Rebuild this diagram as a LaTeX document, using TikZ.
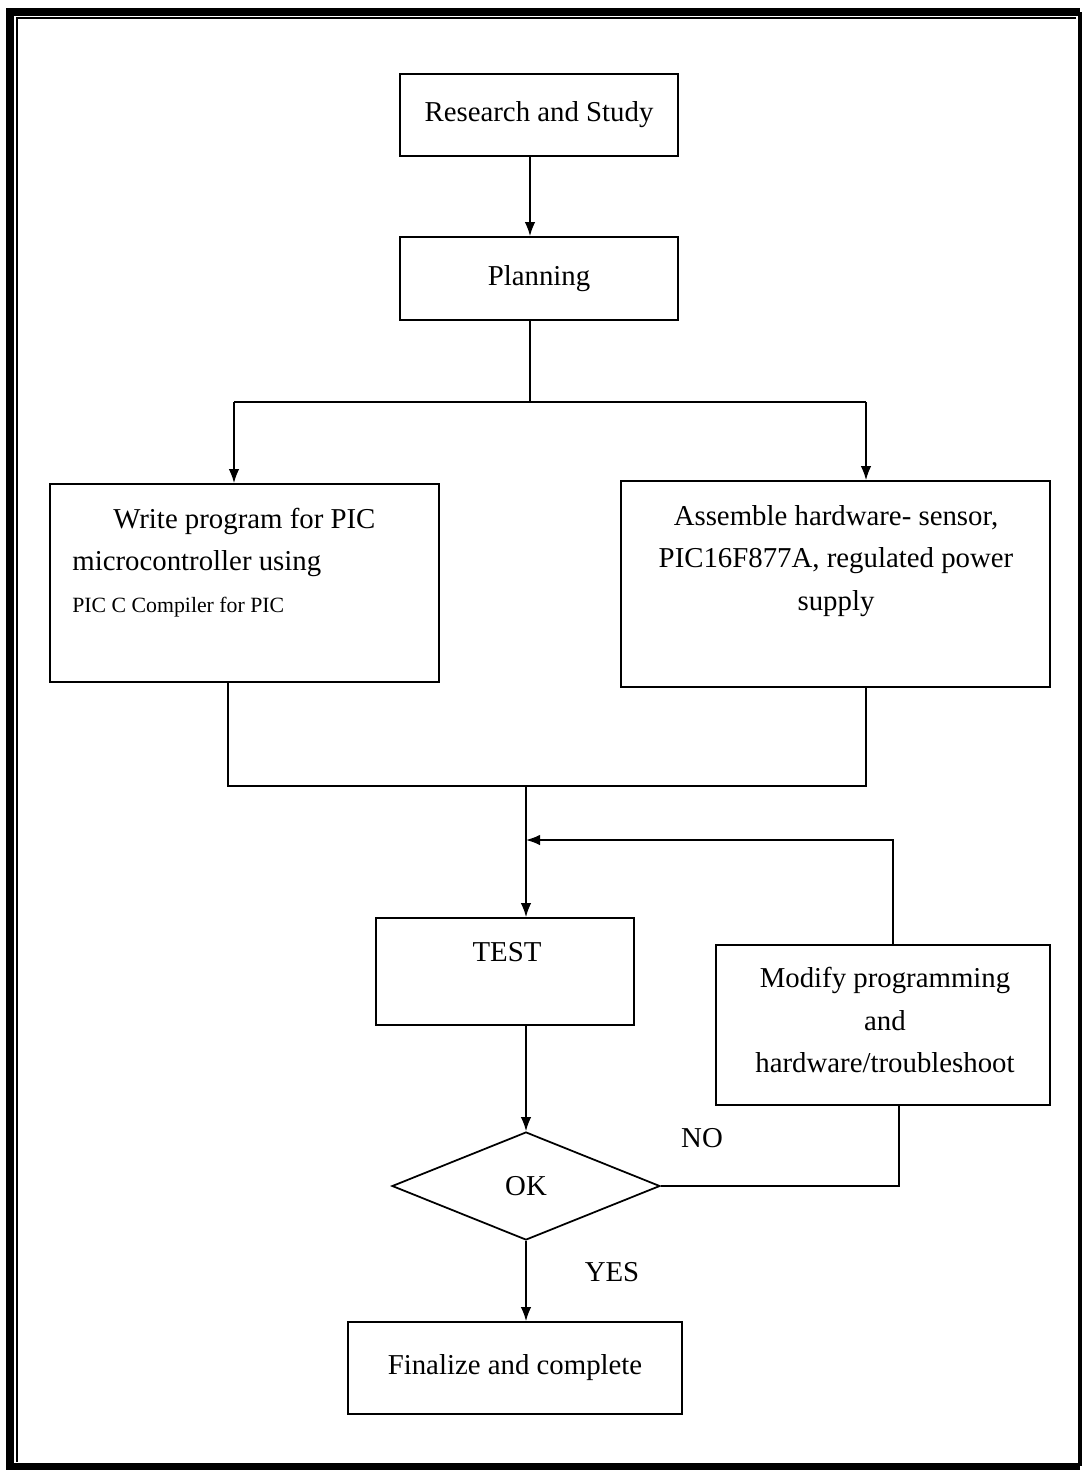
\documentclass[tikz,border=0pt]{standalone}
\usepackage{fontspec}
\setmainfont{Liberation Serif}
\usetikzlibrary{shapes.geometric,arrows.meta}
\tikzset{
  stepbox/.style={draw,line width=1pt,rectangle,inner sep=0pt},
  txt/.style={font=\fontsize{16.4}{24}\selectfont,inner sep=0pt},
  arr/.style={line width=0.9pt,-{Latex[length=8pt,width=6pt]}},
  wire/.style={line width=0.9pt},
}
\begin{document}
\begin{tikzpicture}[x=0.02cm,y=-0.02cm]
  \useasboundingbox (0,0) rectangle (1084,1471);
  % frame
  \draw[line width=4pt] (1080,1466) -- (10,1466) -- (10,12) -- (1080,12);
  \draw[line width=1.8pt] (1080,12) -- (1080,1466);
  \draw[line width=0.8pt] (17,1462) -- (17,18) -- (1076,18);
  % boxes
  \node[stepbox,txt,minimum width=5.56cm,minimum height=1.64cm] (rs) at (539,115) {Research and Study};
  \node[stepbox,txt,minimum width=5.56cm,minimum height=1.66cm] (pl) at (539,278.5) {Planning};
  \node[stepbox,minimum width=7.78cm,minimum height=3.96cm] (wr) at (244.5,583) {};
  \node[txt,align=left,anchor=north west] (wrtxt) at (72,508)
    {\hspace*{0.82cm}Write program for PIC\\microcontroller using\\{\fontsize{12.4}{24}\selectfont PIC C Compiler for PIC}};
  \node[stepbox,minimum width=8.58cm,minimum height=4.12cm] (as) at (835.5,584) {};
  \node[txt,align=center] (astxt) at (836,561) {Assemble hardware- sensor,\\PIC16F877A, regulated power\\supply};
  \node[stepbox,minimum width=5.16cm,minimum height=2.14cm] (ts) at (505,971.5) {};
  \node[txt] (tstxt) at (507,952) {TEST};
  \node[stepbox,minimum width=6.68cm,minimum height=3.2cm] (md) at (883,1025) {};
  \node[txt,align=center] (mdtxt) at (885,1020) {Modify programming\\and\\hardware/troubleshoot};
  \node[draw,diamond,aspect=2.5,minimum width=5.36cm,minimum height=2.16cm,inner sep=0pt,line width=1pt,txt] (ok) at (526,1186) {OK};
  \node[stepbox,txt,minimum width=6.68cm,minimum height=1.84cm] (fn) at (515,1368) {Finalize and complete};
  % labels
  \node[txt] (nolbl) at (702,1138) {NO};
  \node[txt] (yeslbl) at (612,1272) {YES};
  % connectors
  \coordinate (split) at (530,402);
  \coordinate (wrin) at (234,402);
  \coordinate (asin) at (866,402);
  \draw[arr] (rs.south -| split) -- (pl.north -| split);
  \draw[wire] (pl.south -| split) -- (split);
  \draw[wire] (wrin) -- (asin);
  \draw[arr] (wrin) -- (wrin |- wr.north);
  \draw[arr] (asin) -- (asin |- as.north);
  \coordinate (joinl) at (228,786);
  \coordinate (joinr) at (866,786);
  \coordinate (joinm) at (526,786);
  \draw[wire] (wr.south -| joinl) -- (joinl) -- (joinr) -- (as.south -| joinr);
  \draw[arr] (joinm) -- (ts.north -| joinm);
  \coordinate (loopr) at (893,840);
  \coordinate (loopl) at (526,840);
  \draw[arr] (md.north -| loopr) -- (loopr) -- (loopl);
  \draw[arr] (ts.south -| joinm) -- (ok.north);
  \coordinate (nor) at (899,1186);
  \draw[wire] (ok.east) -- (nor) -- (md.south -| nor);
  \draw[arr] (ok.south) -- (fn.north -| ok.south);
\end{tikzpicture}
\end{document}
